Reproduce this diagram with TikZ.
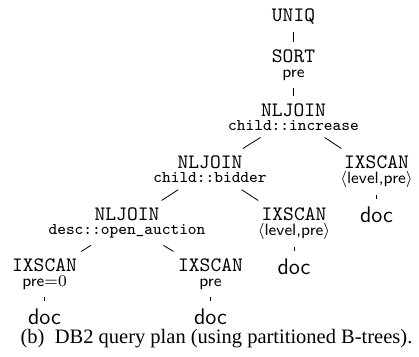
\documentclass[tikz,border=0pt]{standalone}
\usepackage{fontspec}
\newfontfamily\capfont{Liberation Serif}
\usetikzlibrary{positioning}
\tikzset{
   every path/.style={line width=0.4pt},
   op/.style={anchor=north,align=center,font=\ttfamily},
   leaf/.style={font=\sffamily\fontsize{11}{13}\selectfont},
   captext/.style={anchor=base,font=\capfont\fontsize{10}{12}\selectfont},
}
\newcommand{\opnode}[3][-4.6pt]{#2\\[#1]{\footnotesize #3}}
\newcommand{\lvpre}{$\langle$\textsf{level,pre}$\rangle$}

\begin{document}
\begin{tikzpicture}[x=0.4878pt,y=-0.4878pt]
  \useasboundingbox (0,0) rectangle (419,357);

  \node (uniq) [op] at (293.5, 1.5) {UNIQ};
  \node (sort) [op] at (293.5, 42.5) {\opnode{SORT}{\sffamily pre}};
  \node (nljinc) [op] at (293.5, 96.2) {\opnode[-5.2pt]{NLJOIN}{child::increase}};

  \node (nljbid) [op] at (210, 148.5) {\opnode[-5.2pt]{NLJOIN}{child::bidder}};
  \node (ixr) [op] at (376.5, 148.5) {\opnode{IXSCAN}{\lvpre}};

  \node (nljdesc) [op] at (127, 200.5) {\opnode[-5.2pt]{NLJOIN}{desc::open\_auction}};
  \node (ixm) [op] at (294, 200.5) {\opnode{IXSCAN}{\lvpre}};

  \node (ixl) [op] at (44.5, 251.5) {\opnode{IXSCAN}{$\textsf{pre}{=}0$}};
  \node (ixb) [op] at (210.5, 251.5) {\opnode{IXSCAN}{\sffamily pre}};

  % doc leaves under the scans
  \node (docr) [leaf, below = 2pt of ixr] {doc};
  \node (docm) [leaf, below = 2pt of ixm] {doc};
  \node (docl) [leaf, below = 2pt of ixl] {doc};
  \node (docb) [leaf, below = 2pt of ixb] {doc};

  \draw (uniq) -- (sort);
  \draw (sort) -- (nljinc);
  \draw (nljinc) -- (nljbid);
  \draw (nljinc) -- (ixr);
  \draw (nljbid) -- (nljdesc);
  \draw (nljbid) -- (ixm);
  \draw (nljdesc) -- (ixl);
  \draw (nljdesc) -- (ixb);
  \draw (ixr) -- (docr);
  \draw (ixm) -- (docm);
  \draw (ixl) -- (docl);
  \draw (ixb) -- (docb);

  \node (caption) [captext] at (216.5, 343.5)
    {(b)\enspace DB2 query plan (using partitioned B-trees).};
\end{tikzpicture}
\end{document}
